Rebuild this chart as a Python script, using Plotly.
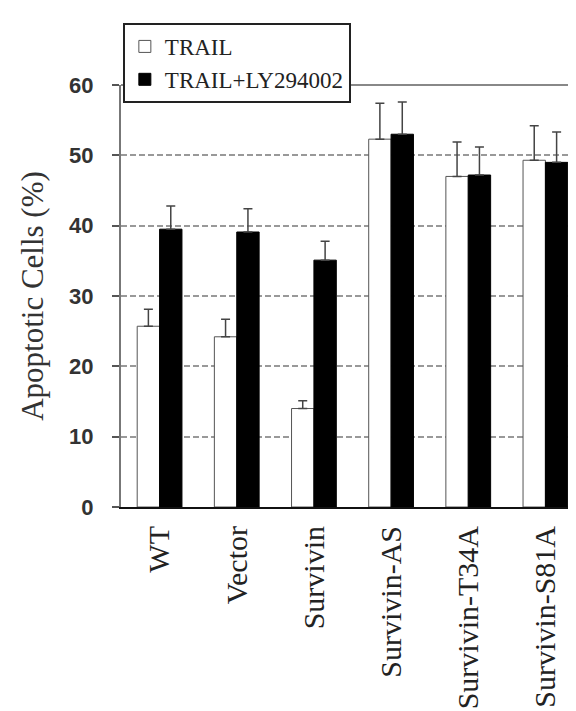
import plotly.graph_objects as go

categories = ["WT", "Vector", "Survivin", "Survivin-AS", "Survivin-T34A", "Survivin-S81A"]
trail = [25.7, 24.2, 14.0, 52.3, 47.0, 49.3]
trail_err = [2.4, 2.5, 1.1, 5.1, 4.9, 4.9]
trail_ly = [39.5, 39.1, 35.1, 53.0, 47.2, 49.0]
trail_ly_err = [3.3, 3.3, 2.7, 4.6, 4.0, 4.3]
y_ticks = [0, 10, 20, 30, 40, 50, 60]
zeros = [0] * len(categories)

serif = "Liberation Serif, Times New Roman, serif"
sans = "Liberation Sans, Arial, sans-serif"

fig = go.Figure()
fig.add_trace(go.Bar(
    x=categories, y=trail, name="TRAIL", legendgroup="a",
    marker=dict(color="white", line=dict(color="#555", width=1)),
    error_y=dict(type="data", array=trail_err, arrayminus=zeros, symmetric=False,
                 color="#444", thickness=1.5, width=4.5),
))
fig.add_trace(go.Bar(
    x=categories, y=trail_ly, name="TRAIL+LY294002", legendgroup="b",
    marker=dict(color="black", line=dict(color="black", width=1)),
    error_y=dict(type="data", array=trail_ly_err, arrayminus=zeros, symmetric=False,
                 color="#444", thickness=1.5, width=4.5),
))

fig.update_layout(
    width=576, height=711,
    margin=dict(l=113, r=0, t=77, b=212, autoexpand=False),
    paper_bgcolor="white", plot_bgcolor="white",
    barmode="group", bargap=0.42, bargroupgap=0,
    showlegend=True,
    legend=dict(
        x=0.004, y=1.147, xanchor="left", yanchor="top",
        bgcolor="white", bordercolor="#222", borderwidth=2,
        font=dict(family=serif, size=23, color="#222"),
        tracegroupgap=5, traceorder="normal",
    ),
    xaxis=dict(
        range=[-0.5, 5.5], showline=True, linecolor="#111", linewidth=2,
        ticks="", tickangle=-90, ticklabelstandoff=5,
        tickfont=dict(family=serif, size=30, color="#222"),
        showgrid=False,
    ),
    yaxis=dict(
        range=[0, 60], tickvals=y_ticks, showline=True, linecolor="#777", linewidth=2,
        mirror=True,
        ticks="outside", ticklen=7, tickcolor="#555", tickwidth=1.5,
        ticklabelstandoff=14,
        tickfont=dict(family=sans, size=22, color="#333", weight="bold"),
        showgrid=True, gridcolor="#999", gridwidth=1.5, griddash="6px,3px",
        zeroline=False,
        title=dict(text="Apoptotic Cells (%)", standoff=16,
                   font=dict(family=serif, size=31, color="#333")),
    ),
    shapes=[dict(type="line", xref="paper", yref="paper", x0=0, x1=1, y0=1, y1=1,
                 line=dict(color="#888", width=2), layer="above")],
)

fig.write_html("out.html")
